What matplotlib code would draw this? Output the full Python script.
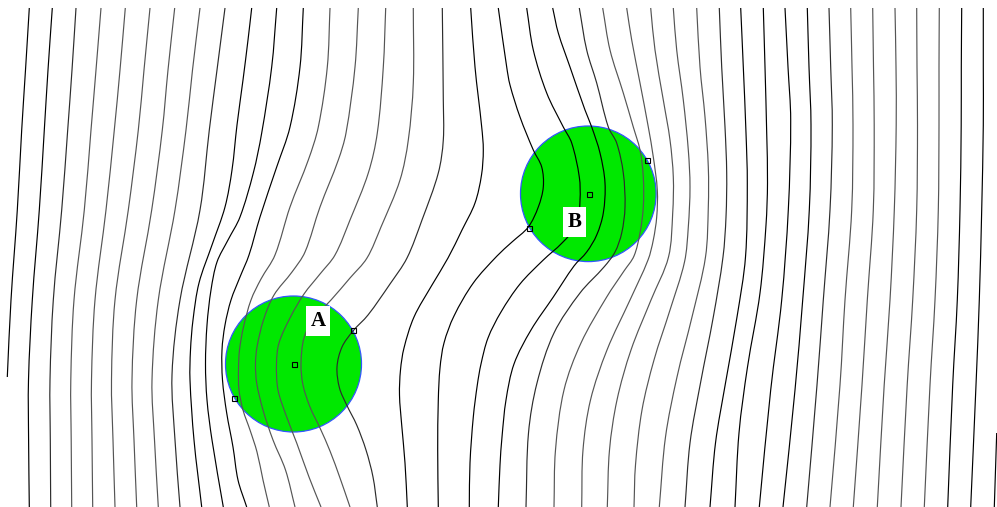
import numpy as np
import matplotlib
matplotlib.use("Agg")
import matplotlib.pyplot as plt
from matplotlib.patches import Circle, PathPatch
from matplotlib.path import Path

# equipotential traces, pixel coordinates (x, y), y growing downwards
L01 = [(29.3, 8), (25.5, 70), (21.7, 130), (17.3, 210), (11, 300), (7.3, 377)]
L02 = [(52.3, 8), (48, 70), (44.3, 130), (39.3, 210), (32.3, 300), (28.5, 380), (28.6, 440), (29.3, 507)]
L03 = [(76, 8), (72, 70), (67.7, 130), (61.7, 210), (53.3, 300), (50, 380), (50.3, 440), (50.7, 507)]
L04 = [(101, 8), (96, 70), (91, 130), (84.3, 210), (74, 300), (70.8, 380), (71.2, 440), (71.7, 507)]
L05 = [(125.3, 8), (120, 70), (114.3, 130), (106, 210), (95, 300), (91.5, 380), (92, 440), (92.7, 507)]
L06 = [(150, 8), (144, 70), (138.3, 130), (128.3, 210), (115, 300), (111.5, 380), (113, 440), (115, 507)]
L07 = [(174.7, 8), (168, 70), (162.3, 130), (151.7, 210), (136.7, 300), (132, 380), (134, 440), (136.7, 507)]
L08 = [(200, 8), (192.5, 70), (186, 130), (175, 210), (158.3, 300), (152, 380), (154.5, 440), (158.3, 507)]
L09 = [(225, 8), (217, 70), (209.3, 130), (200, 210), (180, 300), (172, 375), (175, 440), (180, 507)]
L10 = [(251.7, 8), (248, 40), (243, 80), (237, 125), (232, 170), (225, 207), (212, 245), (199, 283), (193, 320),
       (190.5, 350), (190, 380), (194, 440), (201.7, 507)]
L11 = [(276.7, 8), (271.7, 67), (261.7, 133), (253.3, 173), (240, 217), (228, 240), (217, 262), (211, 290),
       (207, 325), (205.5, 364), (207, 400), (212, 440), (223.3, 507)]
L12 = [(303.3, 8), (300, 67), (290, 127), (276.7, 167), (260, 217), (249, 255), (240, 277), (231, 300),
       (225, 325), (222, 350), (222.5, 380), (226.7, 413), (233, 447), (238, 480), (246.7, 507)]
L13 = [(330, 8), (327.3, 67), (318.3, 127), (308.3, 160), (290, 207), (275, 255), (261, 279), (251, 300),
       (243.5, 327), (239.5, 350), (238.5, 370), (239, 390), (243, 410), (250, 430), (257, 452),
       (263, 480), (269.3, 507)]
L14 = [(358.3, 8), (355, 67), (346, 133), (338.3, 160), (320, 207), (305, 252), (292, 272), (274, 295),
       (263.5, 320), (257, 347), (255.5, 364), (256.7, 383), (263, 410), (273, 440), (285.5, 470), (295, 507)]
L15 = [(385.7, 8), (383.3, 67), (377.3, 133), (368.3, 173), (350, 220), (335, 255), (320, 274), (304, 294),
       (290.5, 317), (279, 343), (276.5, 364), (278, 390), (286.7, 417), (296.7, 443), (309, 477), (321, 507)]
L16 = [(413.3, 8), (413.3, 83), (408.3, 140), (400, 180), (381, 227), (367, 258), (350, 278), (331, 300),
       (314, 318), (304, 338), (301, 364), (303, 385), (310, 407), (320, 428), (330, 451), (340, 478), (350, 507)]
L17 = [(442.3, 8), (443.3, 100), (443.3, 140), (438.3, 173), (422, 220), (407, 258), (390, 284), (368, 315),
       (353, 331), (342, 347), (337, 367), (339.5, 388), (346.7, 405), (356.7, 425), (366, 450), (373, 477),
       (377.3, 507)]
L18 = [(470.7, 8), (475, 67), (481.7, 127), (483.3, 150), (481.5, 175), (475, 203), (462, 230), (448, 258),
       (432, 285), (414, 317), (404, 348), (400.5, 370), (399.5, 395), (401.7, 425), (405, 463), (407.3, 507)]
L19 = [(498.3, 8), (506.7, 67), (510, 85), (520, 117), (533.3, 150), (541.7, 167), (543.3, 187), (538.3, 207),
       (528.3, 227), (512, 242), (497, 256), (473.3, 283), (454, 316), (444, 343), (440, 368), (438.3, 400),
       (437.7, 450), (438.3, 507)]
L20 = [(526.7, 8), (533.3, 50), (546.7, 93), (563.3, 127), (571.7, 143), (579.3, 177), (580, 200), (576.7, 225),
       (562, 243), (543.3, 260), (520, 284), (501, 312), (488, 338), (481, 364), (477.3, 385), (473.3, 417),
       (470, 463), (469.3, 507)]
L21 = [(552.7, 8), (558.3, 33), (570, 67), (585, 110), (591.7, 127), (600, 153), (605, 183), (603.3, 213),
       (596.7, 235), (586.7, 252), (574, 266), (553.3, 297), (531, 330), (514, 364), (506, 400), (502, 437),
       (500, 465), (498.3, 507)]
L22 = [(579.3, 8), (586.7, 50), (596.7, 83), (608.3, 127), (616.7, 143), (623.3, 173), (625, 207), (621.7, 233),
       (615, 252), (604, 267), (580, 293), (554, 333), (537, 383), (528.5, 433), (526, 507)]
L23 = [(602.7, 8), (610, 50), (623.3, 93), (633.3, 127), (640, 150), (643.3, 177), (643.3, 207), (640, 233),
       (634, 256), (624, 271), (606.7, 297), (581, 343), (564, 390), (555.5, 450), (554, 507)]
L24 = [(626.7, 8), (631.7, 40), (640, 83), (648.3, 127), (653.3, 157), (657.3, 190), (656.7, 217), (653.3, 240),
       (648, 260), (630, 300), (607, 350), (590.5, 400), (583, 450), (581.7, 507)]
L25 = [(650.7, 8), (655, 50), (663.3, 100), (670, 140), (673.3, 177), (672.7, 213), (668.5, 257), (651, 300),
       (631, 350), (617, 400), (609.5, 450), (607.3, 507)]
L26 = [(673.3, 8), (676.7, 50), (683.3, 100), (688.3, 150), (690, 187), (688.3, 227), (684.5, 262), (670, 310),
       (654, 360), (642, 410), (635.5, 465), (634, 507)]
L27 = [(696.7, 8), (700, 67), (705, 117), (708.3, 167), (708.3, 207), (705.5, 257), (692, 317), (677, 377),
       (665.5, 437), (659.3, 507)]
L28 = [(719.3, 8), (721.7, 67), (725, 127), (726.7, 173), (726, 217), (723, 257), (713.3, 317), (700.5, 383),
       (690, 443), (685, 507)]
L29 = [(740.7, 8), (743.3, 67), (746, 133), (747.3, 183), (745.5, 257), (737, 317), (725.5, 383), (715.5, 443),
       (710, 507)]
L30 = [(763.3, 8), (765, 67), (766.7, 133), (767.5, 183), (766, 225), (760, 293), (747.5, 367), (739, 433),
       (735, 507)]
L31 = [(785, 8), (788, 67), (790.7, 120), (788.3, 210), (781.7, 300), (770.7, 390), (759.3, 507)]
L32 = [(807.3, 8), (809, 67), (811, 125), (809.3, 210), (802.7, 300), (795, 390), (783, 507)]
L33 = [(829, 8), (830.7, 67), (832.3, 125), (830, 210), (823.3, 300), (817, 385), (806.7, 507)]
L34 = [(850.7, 8), (852, 67), (853, 125), (851.7, 210), (845, 300), (840, 385), (830, 507)]
L35 = [(872.7, 8), (873.5, 67), (874.2, 125), (873.3, 210), (867.3, 300), (862, 385), (853.3, 507)]
L36 = [(895, 8), (896, 67), (896.2, 125), (894.3, 210), (890, 300), (884.2, 385), (877.3, 507)]
L37 = [(916.7, 8), (917, 67), (917.5, 125), (916.7, 210), (912.7, 300), (907.2, 385), (901, 507)]
L38 = [(939.3, 8), (939, 67), (939, 125), (938.3, 210), (935, 300), (930, 385), (924.3, 507)]
L39 = [(961.7, 8), (961.3, 67), (961.2, 125), (960, 210), (957.3, 300), (952.7, 385), (947.7, 507)]
L40 = [(983.3, 8), (983.3, 67), (983.3, 125), (981.7, 210), (979.3, 300), (976, 385), (970.7, 507)]
L41 = [(996.7, 433), (994.3, 507)]

traces = [L01, L02, L03, L04, L05, L06, L07, L08, L09, L10, L11, L12, L13, L14, L15, L16, L17, L18, L19, L20,
          L21, L22, L23, L24, L25, L26, L27, L28, L29, L30, L31, L32, L33, L34, L35, L36, L37, L38, L39, L40, L41]

# k = black, d = dark grey, g = grey
shade_codes = "kkdgggggdkkkggggdkkkkdggggg" + "dkkkkdgggggkkk"
shade_colors = {"k": "#000000", "d": "#2c2c2c", "g": "#555555"}

# the two bodies: centre, radius, label, label position, marker points
body_names = ["A", "B"]
body_centers = [(293.5, 364.0), (588.3, 193.8)]
body_radius = [68.0, 67.8]
label_pos = [(318.0, 321.0), (574.5, 222.0)]
handle_points = [[(293.5, 364.0), (353.3, 330.0), (234.0, 398.0)],
                 [(589.0, 194.0), (646.7, 160.0), (529.0, 227.5)]]


def smooth_path(points):
    # cubic Bezier pieces passing through every traced point (chord-length tangents)
    p = np.asarray(points, dtype=float)
    if len(p) < 3:
        return Path(p)
    d = np.hypot(*np.diff(p, axis=0).T)
    tang = np.zeros_like(p)
    tang[1:-1] = (p[2:] - p[:-2]) / (d[:-1] + d[1:])[:, None]
    tang[0] = (p[1] - p[0]) / d[0]
    tang[-1] = (p[-1] - p[-2]) / d[-1]
    verts = [p[0]]
    codes = [Path.MOVETO]
    for i in range(len(p) - 1):
        verts += [p[i] + tang[i] * d[i] / 3, p[i + 1] - tang[i + 1] * d[i] / 3, p[i + 1]]
        codes += [Path.CURVE4] * 3
    return Path(verts, codes)


W, H = 997, 507
fig = plt.figure(figsize=(W / 100, H / 100), dpi=100)
ax = fig.add_axes([0, 0, 1, 1])
ax.set_xlim(0, W)
ax.set_ylim(H, 0)
ax.axis("off")

for (cx, cy), r in zip(body_centers, body_radius):
    ax.add_patch(Circle((cx, cy), r, facecolor="#00e800", edgecolor="#3355ff", linewidth=0.9, zorder=1))

for i, tr in enumerate(traces):
    col = shade_colors[shade_codes[i]]
    ax.add_patch(PathPatch(smooth_path(tr), facecolor="none", edgecolor=col, linewidth=0.85, zorder=2))

for pts in handle_points:
    ax.plot([p[0] for p in pts], [p[1] for p in pts], linestyle="none", marker="s", markersize=3.6,
            markerfacecolor="none", markeredgecolor="black", markeredgewidth=0.8, zorder=3)

for name, (lx, ly) in zip(body_names, label_pos):
    ax.text(lx, ly, name, ha="center", va="center", fontsize=15, fontweight="bold",
            family=["Liberation Serif", "DejaVu Serif"], zorder=4,
            bbox=dict(boxstyle="square,pad=0.22", facecolor="white", edgecolor="none"))

fig.savefig("out.png", dpi=100)
